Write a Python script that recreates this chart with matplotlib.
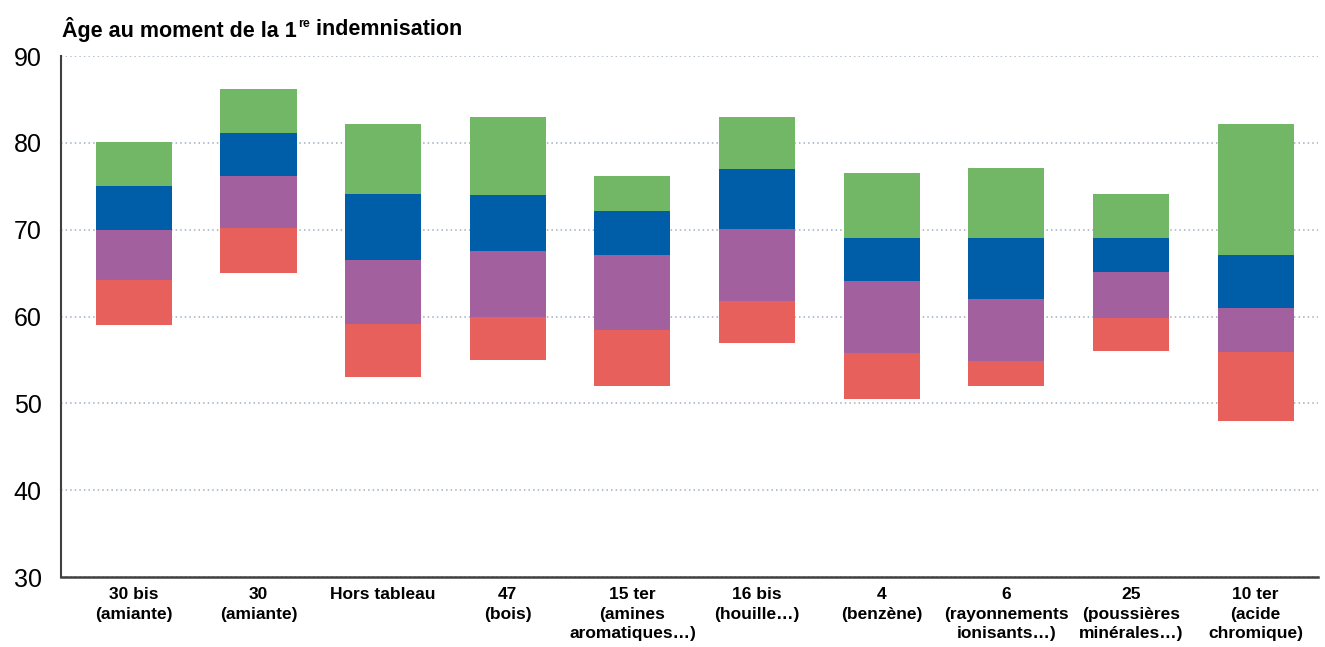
import numpy as np
import matplotlib
matplotlib.use("Agg")
import matplotlib.pyplot as plt
from matplotlib.transforms import offset_copy

# categories (tableau de maladie professionnelle)
categories = [
    "30 bis\n(amiante)",
    "30\n(amiante)",
    "Hors tableau",
    "47\n(bois)",
    "15 ter\n(amines\naromatiques\u2026)",
    "16 bis\n(houille\u2026)",
    "4\n(benzène)",
    "6\n(rayonnements\nionisants\u2026)",
    "25\n(poussières\nminérales\u2026)",
    "10 ter\n(acide\nchromique)",
]

# boundaries of the stacked segments (age)
p_low = [59, 65, 53, 55, 52, 57, 50.5, 52, 56, 48]
q1 = [64.2, 70.2, 59.2, 60, 58.4, 61.8, 55.8, 54.9, 59.8, 55.9]
median = [70, 76.2, 66.5, 67.5, 67.1, 70.1, 64.1, 62, 65.1, 61]
q3 = [75, 81.1, 74.1, 74, 72.1, 77, 69, 69, 69, 67.1]
p_high = [80.1, 86.2, 82.2, 83, 76.2, 83, 76.5, 77.1, 74.1, 82.2]

colors = ["#E8605C", "#A2619E", "#005EA8", "#71B766"]

plt.rcParams["font.family"] = ["Liberation Sans", "DejaVu Sans"]

fig = plt.figure(figsize=(13.25, 6.47), dpi=100)
ax = fig.add_axes([0.046, 0.108, 0.9487, 0.8054])

x = np.arange(len(categories))
levels = [p_low, q1, median, q3, p_high]
for i, c in enumerate(colors):
    lo = np.array(levels[i])
    hi = np.array(levels[i + 1])
    ax.bar(x, hi - lo, bottom=lo, width=0.61, color=c, zorder=3)

ax.set_xlim(-0.585, 9.5)
ax.set_ylim(30, 90)
ax.set_yticks([30, 40, 50, 60, 70, 80, 90])
ax.set_yticklabels(["30", "40", "50", "60", "70", "80", "90"], fontsize=18)
ax.set_xticks(x)
ax.set_xticklabels(categories, fontsize=12.5, fontweight="bold", linespacing=1.4, va="top")
ax.tick_params(axis="both", length=0)
ax.tick_params(axis="y", pad=14)
ax.tick_params(axis="x", pad=7)

ax.yaxis.grid(True, linestyle=(0, (1, 2)), color="#9FB0C0", linewidth=1.1, zorder=0)
for s in ["top", "right"]:
    ax.spines[s].set_visible(False)
ax.spines["left"].set_color("#404040")
ax.spines["left"].set_linewidth(1.5)
ax.spines["bottom"].set_color("#404040")
ax.spines["bottom"].set_linewidth(1.8)
ax.spines["bottom"].set_zorder(4)

# title with a small raised "re"
renderer = fig.canvas.get_renderer()
t1 = fig.text(0.047, 0.955, "Âge au moment de la 1", fontsize=15.5,
              fontweight="bold", ha="left", va="center")
w1 = t1.get_window_extent(renderer).width * 72 / fig.dpi
t2 = fig.text(0.047, 0.955, "re", fontsize=9, fontweight="bold", ha="left", va="center",
              transform=offset_copy(fig.transFigure, fig=fig, x=w1 + 0.5, y=3.5, units="points"))
w2 = t2.get_window_extent(renderer).width * 72 / fig.dpi
fig.text(0.047, 0.955, " indemnisation", fontsize=15.5, fontweight="bold", ha="left", va="center",
         transform=offset_copy(fig.transFigure, fig=fig, x=w1 + w2 + 1, y=0, units="points"))

fig.savefig("out.png", dpi=100)
